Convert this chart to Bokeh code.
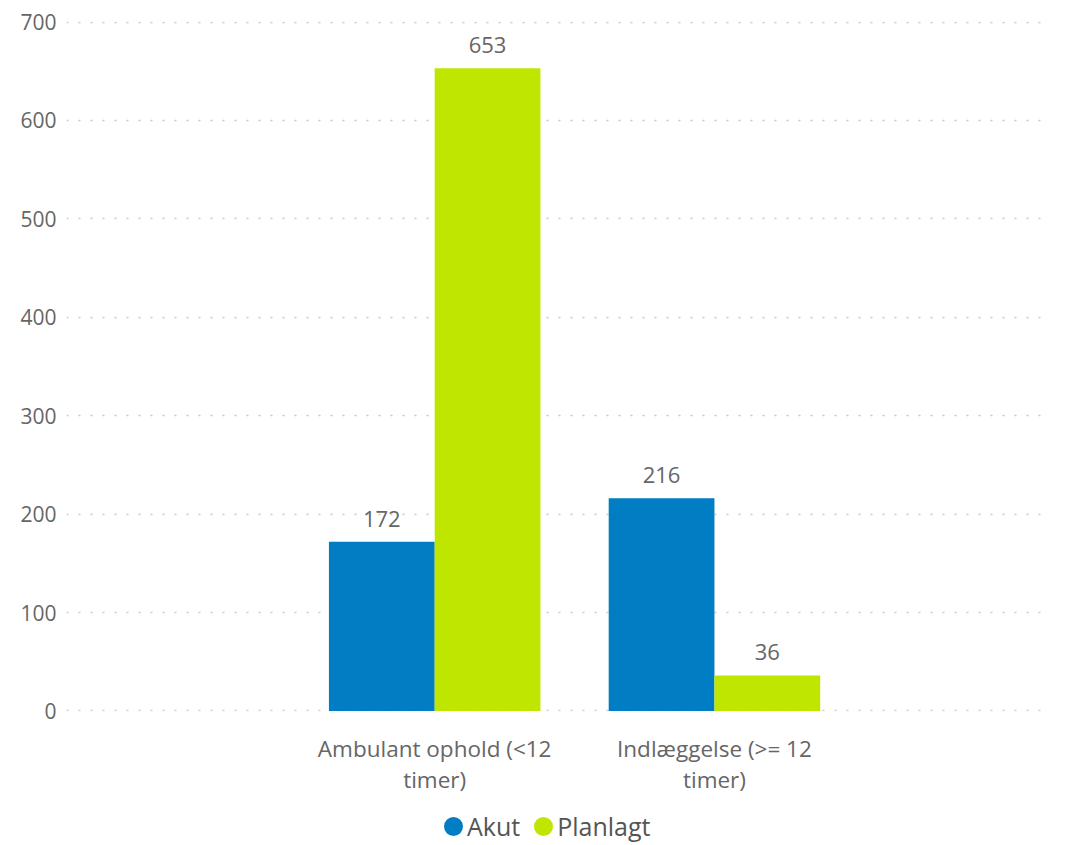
import numpy as np
from bokeh.plotting import figure
from bokeh.layouts import column
from bokeh.models import (ColumnDataSource, Range1d, FixedTicker, LabelSet, Legend, LegendItem)
from bokeh.transform import dodge
from bokeh.core.properties import value
from bokeh.embed import file_html
from bokeh.resources import INLINE

categories = ["Ambulant ophold (<12 timer)", "Indlæggelse (>= 12 timer)"]
tick_labels = ["Ambulant ophold (<12\ntimer)", "Indlæggelse (>= 12\ntimer)"]
series = ["Akut", "Planlagt"]
akut = [172, 216]
planlagt = [653, 36]
y_ticks = [0, 100, 200, 300, 400, 500, 600, 700]

colors = {"Akut": "#007DC3", "Planlagt": "#BFE600"}
FONT = "Open Sans"
TXT = "#666666"

xs = list(range(len(categories)))
src = ColumnDataSource(dict(x=xs, cat=categories, Akut=akut, Planlagt=planlagt,
                            Akut_lbl=[str(v) for v in akut],
                            Planlagt_lbl=[str(v) for v in planlagt]))

p = figure(width=1050, height=797, output_backend="svg", toolbar_location=None,
           x_range=Range1d(-1.316, 2.194), y_range=Range1d(-0.6, 700.6),
           min_border_left=66, min_border_right=2, min_border_top=21, min_border_bottom=86)
p.outline_line_color = None
p.background_fill_color = "white"
p.border_fill_color = "white"

bw = 0.378
off = bw / 2
r_akut = p.vbar(x=dodge("x", -off), top="Akut", width=bw, source=src,
                fill_color=colors["Akut"], line_color=None)
r_plan = p.vbar(x=dodge("x", off), top="Planlagt", width=bw, source=src,
                fill_color=colors["Planlagt"], line_color=None)

for name, o in (("Akut", -off), ("Planlagt", off)):
    p.add_layout(LabelSet(x=dodge("x", o), y=name, text=name + "_lbl", source=src,
                          text_align="center", text_baseline="bottom", y_offset=15,
                          text_font=value(FONT), text_font_size="22px", text_color=TXT))

p.xgrid.grid_line_color = None
p.ygrid.ticker = FixedTicker(ticks=y_ticks)
p.ygrid.grid_line_color = "#C8C8C8"
p.ygrid.grid_line_dash = "2 10"
p.ygrid.grid_line_width = 1.5

p.yaxis.ticker = FixedTicker(ticks=y_ticks)
p.yaxis.axis_line_color = None
p.yaxis.major_tick_line_color = None
p.yaxis.minor_tick_line_color = None
p.yaxis.major_label_standoff = 4
p.yaxis.major_label_text_font = FONT
p.yaxis.major_label_text_font_size = "21px"
p.yaxis.major_label_text_color = TXT

p.xaxis.ticker = FixedTicker(ticks=xs)
p.xaxis.major_label_overrides = {i: t for i, t in zip(xs, tick_labels)}
p.xaxis.axis_line_color = None
p.xaxis.major_tick_line_color = None
p.xaxis.minor_tick_line_color = None
p.xaxis.major_label_standoff = 15
p.xaxis.major_label_text_font = FONT
p.xaxis.major_label_text_font_size = "22.5px"
p.xaxis.major_label_text_color = TXT
p.xaxis.major_label_text_line_height = 1.0

# legend strip below the chart
lf = figure(width=1050, height=46, output_backend="svg", toolbar_location=None,
            x_range=Range1d(0, 1), y_range=Range1d(0, 1),
            x_axis_location=None, y_axis_location=None,
            min_border_left=0, min_border_right=0, min_border_top=0, min_border_bottom=0)
lf.outline_line_color = None
lf.xgrid.visible = False
lf.ygrid.visible = False
proxies = []
for s in series:
    proxies.append(lf.scatter(x=np.array([np.nan]), y=np.array([np.nan]), marker="circle",
                              fill_color=colors[s], line_color=colors[s], line_width=9.4))

legend = Legend(items=[LegendItem(label=s, renderers=[r]) for s, r in zip(series, proxies)],
                orientation="horizontal", location=(375, 0),
                label_text_font=FONT, label_text_font_size="25px", label_text_color="#555555",
                label_height=24, glyph_width=24, glyph_height=24, label_standoff=2, spacing=11,
                border_line_color=None, background_fill_alpha=0, margin=0, padding=1)
lf.add_layout(legend, "center")

layout = column(p, lf, spacing=0)
open("out.html", "w").write(file_html(layout, INLINE))
